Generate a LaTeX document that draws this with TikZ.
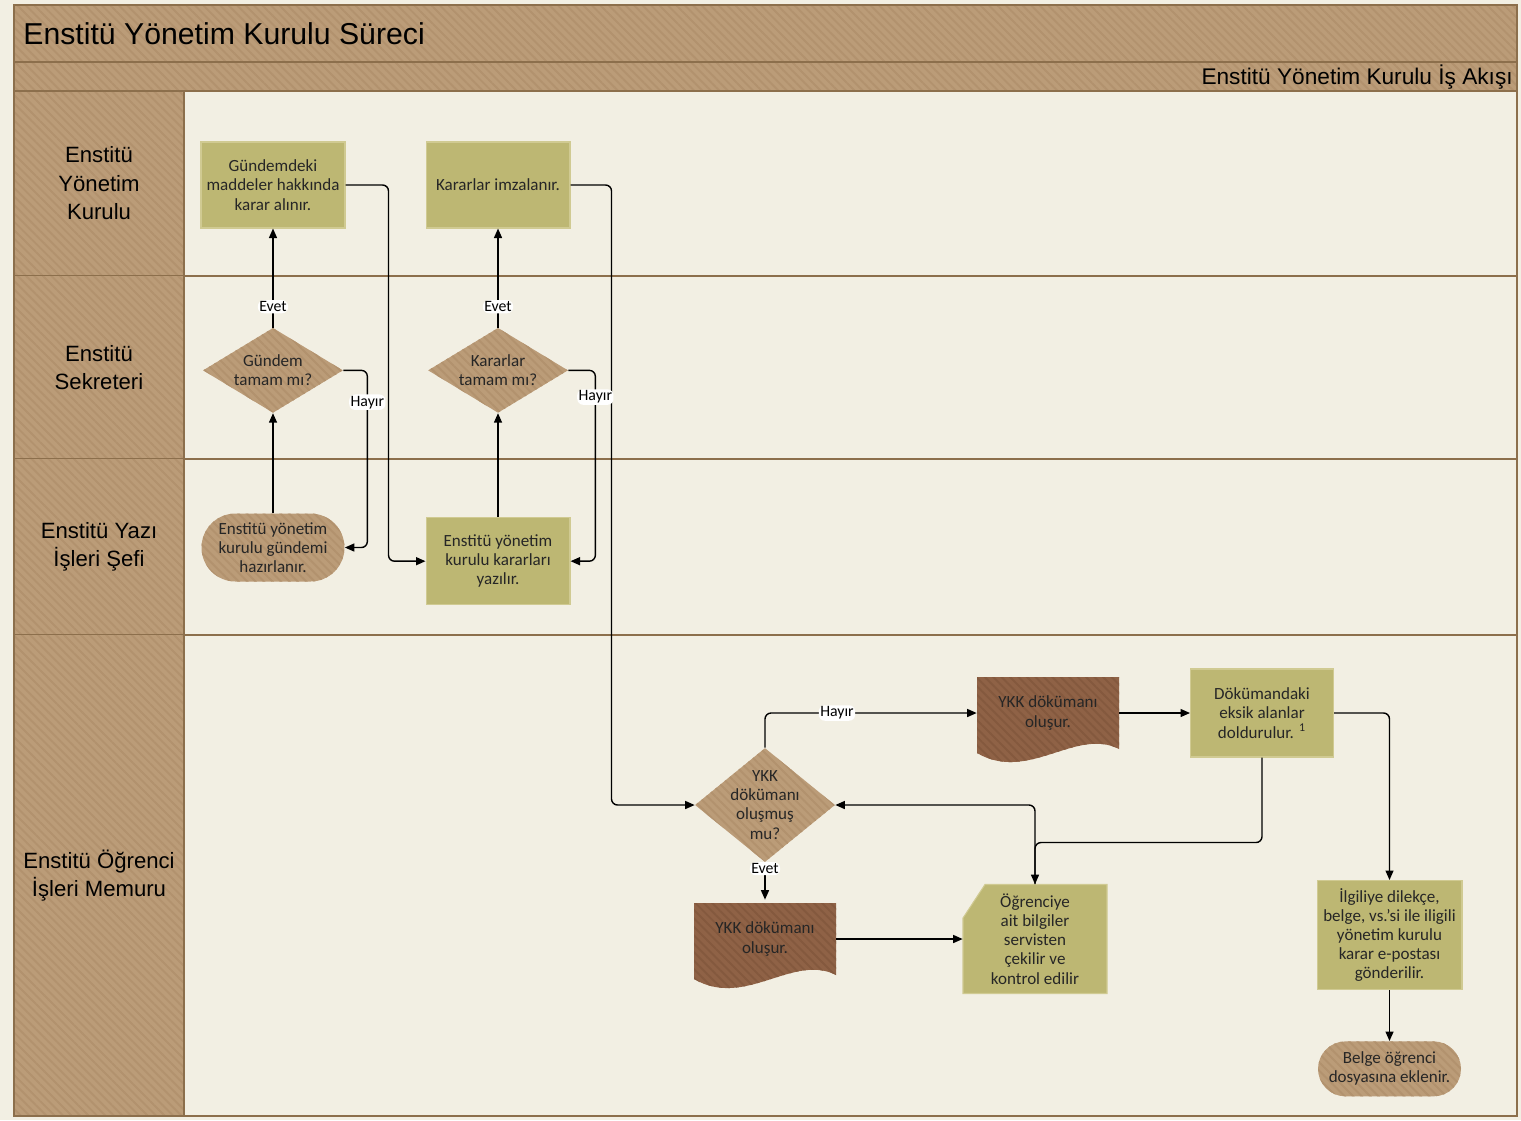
\documentclass[tikz,border=0pt]{standalone}
\usepackage{fontspec}
\setmainfont{Carlito}
\newfontfamily\headfont{Liberation Sans}
\usetikzlibrary{positioning,arrows.meta,calc,shapes.geometric,patterns.meta}
\definecolor{cPaper}    {RGB}{242,239,227}
\definecolor{cTan}      {RGB}{187,156,120}
\definecolor{cTanLine}  {RGB}{178,146,110}
\definecolor{cRule}     {RGB}{140,111, 76}
\definecolor{cOlive}    {RGB}{189,183,115}
\definecolor{cOliveEdge}{RGB}{208,202,146}
\definecolor{cBrown}    {RGB}{143, 98, 70}
\definecolor{cBrownLine}{RGB}{132, 89, 62}
\newcommand{\boxfont}{\fontsize{9.7}{10.9}\selectfont}
\newcommand{\lblfont}{\fontsize{9}{10}\selectfont}
\newcommand{\lanefont}{\headfont\fontsize{12.6}{16.2}\selectfont}
\tikzset{
  hatch/.style    = {fill=cTan, postaction={pattern={Lines[angle=-45,
                     distance=3.4pt,line width=1.1pt]}, pattern color=cTanLine}},
  brownhatch/.style = {fill=cBrown, postaction={pattern={Lines[angle=-45,
                     distance=3.4pt,line width=1.1pt]}, pattern color=cBrownLine}},
  rule/.style     = {draw=cRule, line width=0.85pt},
  lanecap/.style  = {font=\lanefont, align=center, inner sep=0pt},
  task/.style     = {rectangle, fill=cOlive, draw=cOliveEdge, line width=0.6pt,
                     minimum width=28.8mm, minimum height=17.2mm, inner sep=1pt,
                     font=\boxfont, align=center, text=black!85},
  decide/.style   = {diamond, hatch, minimum width=28mm, minimum height=17mm,
                     inner sep=-5mm, font=\boxfont, align=center, text=black!85},
  term/.style     = {rectangle, hatch, minimum width=28.6mm, inner sep=1pt,
                     font=\boxfont, align=center, text=black!85},
  docu/.style     = {rectangle, minimum width=28.4mm, minimum height=15.6mm,
                     inner sep=1pt, font=\boxfont, align=center, text=black!85},
  flow/.style     = {-{Triangle[length=1.9mm,width=1.6mm]}, black,
                     line width=0.8pt, rounded corners=1.2mm},
  yesno/.style    = {fill=white, inner sep=0.8pt, font=\lblfont},
}
% wavy-bottom document: name, centre, text
\newcommand{\docnode}[3]{%
  \begin{scope}[shift={#2}]
    \fill[brownhatch] (-71,-39) -- (71,-39) -- (71,33)
      .. controls (28,11) and (-20,67) .. (-71,37) -- cycle;
    \node[docu] (#1) at (0,-3) {#3};
  \end{scope}}
% card with clipped corner: name, centre, text
\newcommand{\cardnode}[3]{%
  \begin{scope}[shift={#2}]
    \filldraw[fill=cOlive, draw=cOliveEdge, line width=0.6pt]
      (-50,-54.5) -- (72,-54.5) -- (72,54.5) -- (-72,54.5) -- (-72,-21) -- cycle;
    \node[docu, minimum width=28.8mm, minimum height=21.8mm] (#1) at (0,0) {#3};
  \end{scope}}

\begin{document}
\begin{tikzpicture}[x=0.02cm, y=-0.02cm]
  \useasboundingbox (0,0) rectangle (1521,1120);
  \fill[cPaper] (0,0) rectangle (1521,1120);

  %% ---------------- pool header ---------------------------------------
  \fill[hatch] (14,5) rectangle (1517,91);
  \node[font=\headfont\fontsize{17.2}{20}\selectfont, anchor=west, inner sep=0pt]
    (title) at (23,34) {Enstitü Yönetim Kurulu Süreci};
  \node[font=\headfont\fontsize{12.9}{15}\selectfont, anchor=east, inner sep=0pt]
    (subtitle) at (1513,77) {Enstitü Yönetim Kurulu İş Akışı};

  %% ---------------- lanes ---------------------------------------------
  \foreach \ltop/\lbot/\lname/\ltext in {
      91/276/lane1/{Enstitü\\Yönetim\\Kurulu},
      276/459/lane2/{Enstitü\\Sekreteri},
      459/635/lane3/{Enstitü Yazı\\İşleri Şefi},
      635/1116/lane4/{Enstitü Öğrenci\\İşleri Memuru}}{
    \fill[hatch] (14,\ltop) rectangle (184,\lbot);
    \node[lanecap] (\lname) at (99,{(\ltop+\lbot)/2}) {\ltext};
    \draw[rule] (14,\lbot) -- (1517,\lbot);
  }
  \draw[rule] (14,62) -- (1517,62);
  \draw[rule] (14,91) -- (1517,91);
  \draw[rule] (184,91) -- (184,1116);
  \draw[rule] (14,5) rectangle (1517,1116);

  %% ---------------- upper lanes ---------------------------------------
  \node[task] (a1) at (273,185) {Gündemdeki\\maddeler hakkında\\karar alınır.};
  \node[task] (a2) [right=16mm of a1] {Kararlar imzalanır.};
  \node[decide] (d1) [below=19.8mm of a1] {Gündem\\tamam mı?};
  \node[decide] (d2) [below=19.8mm of a2] {Kararlar\\tamam mı?};
  \node[term, minimum height=13.6mm, rounded corners=6.8mm]
    (t1) [below=20mm of d1] {Enstitü yönetim\\kurulu gündemi\\hazırlanır.};
  \node[task, minimum height=17.4mm]
    (r1) [below=20.8mm of d2] {Enstitü yönetim\\kurulu kararları\\yazılır.};

  %% ---------------- student affairs lane ------------------------------
  \node[decide, minimum height=22.8mm] (d3) at (765,805)
    {YKK\\dökümanı\\oluşmuş\\mu?};
  \docnode{doc1}{(1048,716)}{YKK dökümanı\\oluşur.}
  \node[task, minimum width=28.6mm, minimum height=17.6mm]
    (r2) at (1262,713) {Dökümandaki\\eksik alanlar\\doldurulur. \textsuperscript{1}};
  \docnode{doc2}{(765,942)}{YKK dökümanı\\oluşur.}
  \cardnode{c1}{(1035,939)}{Öğrenciye\\ait bilgiler\\servisten\\çekilir ve\\kontrol edilir};
  \node[task, minimum width=29mm, minimum height=21.8mm] (r3) at (1389.5,935)
    {İlgiliye dilekçe,\\belge, vs.'si ile iligili\\yönetim kurulu\\karar e-postası\\gönderilir.};
  \node[term, minimum height=11mm, rounded corners=5.5mm]
    (t2) [below=10.2mm of r3] {Belge öğrenci\\dosyasına eklenir.};

  %% ---------------- connectors ----------------------------------------
  \draw[flow] (a2.east) -- ++(41,0) |- (d3.west);
  \draw[flow] (t1.north) -- (d1.south);
  \draw[flow] (d1.north) -- node[yesno, pos=0.21] {Evet} (a1.south);
  \draw[flow] (d1.east) -- ++(24,0) |- node[yesno, pos=0.09] {Hayır} (t1.east);
  \draw[flow] (a1.east) -- ++(43,0) |- (r1.west);
  \draw[flow] (r1.north) -- (d2.south);
  \draw[flow] (d2.north) -- node[yesno, pos=0.21] {Evet} (a2.south);
  \draw[flow] (d2.east) -- ++(27,0) |- node[yesno, pos=0.07] {Hayır} (r1.east);

  \draw[flow] (d3.north) |- node[yesno, pos=0.67] {Hayır} (doc1.west);
  \draw[flow] (d3.south) -- node[yesno, pos=0.17] {Evet} (doc2.north);
  \draw[flow] (doc1.east) -- (r2.west);
  \draw[flow] (r2.south) -- ++(0,85) -| (c1.north);
  \draw[flow] (c1.north) |- (d3.east);
  \draw[flow] (doc2.east) -- (c1.west);
  \draw[flow] (r2.east) -| (r3.north);
  \draw[flow] (r3.south) -- (t2.north);
\end{tikzpicture}
\end{document}
